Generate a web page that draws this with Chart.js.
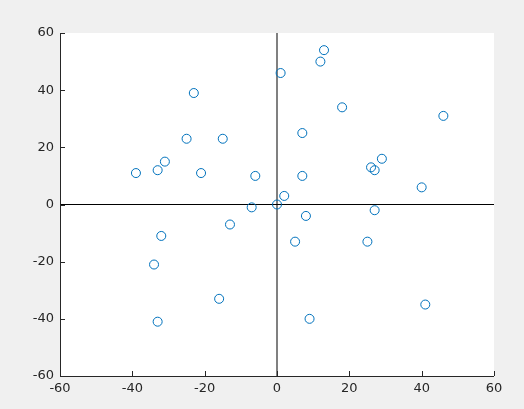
<!DOCTYPE html>
<html>
<head>
<meta charset="utf-8">
<script src="https://cdn.jsdelivr.net/npm/chart.js@4/dist/chart.umd.min.js"></script>
<style>
  html, body { margin: 0; padding: 0; background: #f0f0f0; }
  canvas { display: block; }
</style>
</head>
<body>
<canvas id="chart" width="524" height="409"></canvas>
<script>
// scatter data
const xValues = [-39, -33, -31, -23, -25, -21, -15, -6, -7, 0, 1, 2, 12, 13, 18, 7, 7, 8, 5,
                 26, 27, 29, 46, 40, 27, 25, 41, 9, -32, -34, -33, -16, -13];
const yValues = [11, 12, 15, 39, 23, 11, 23, 10, -1, 0, 46, 3, 50, 54, 34, 25, 10, -4, -13,
                 13, 12, 16, 31, 6, -2, -13, -35, -40, -11, -21, -41, -33, -7];

const xTicks = [-60, -40, -20, 0, 20, 40, 60];
const yTicks = [-60, -40, -20, 0, 20, 40, 60];

const points = xValues.map((x, i) => ({ x: x, y: yValues[i] }));

// white plot area + inward tick marks, matlab style
const axesDeco = {
  id: "axesDeco",
  beforeDraw(chart) {
    const a = chart.chartArea;
    const c = chart.ctx;
    c.save();
    c.fillStyle = "#ffffff";
    c.fillRect(a.left, a.top, a.right - a.left, a.bottom - a.top);
    c.restore();
  },
  afterDraw(chart) {
    const a = chart.chartArea;
    const c = chart.ctx;
    const sx = chart.scales.x, sy = chart.scales.y;
    c.save();
    c.strokeStyle = "#262626";
    c.lineWidth = 1;
    c.beginPath();
    xTicks.forEach(t => {
      const px = Math.round(sx.getPixelForValue(t)) + 0.5;
      c.moveTo(px, a.bottom);
      c.lineTo(px, a.bottom - 5);
    });
    yTicks.forEach(t => {
      const py = Math.round(sy.getPixelForValue(t)) + 0.5;
      c.moveTo(a.left, py);
      c.lineTo(a.left + 5, py);
    });
    c.stroke();
    c.restore();
  }
};

const tickFont = { family: "DejaVu Sans", size: 13 };

new Chart(document.getElementById("chart"), {
  type: "scatter",
  data: {
    datasets: [{
      data: points,
      pointStyle: "circle",
      pointRadius: 4.5,
      pointHoverRadius: 4.5,
      borderColor: "#0072BD",
      backgroundColor: "rgba(0,0,0,0)",
      borderWidth: 1
    }]
  },
  options: {
    responsive: false,
    animation: false,
    layout: { padding: { top: 33, right: 30, left: 0, bottom: 0 } },
    plugins: { legend: { display: false }, tooltip: { enabled: false } },
    scales: {
      x: {
        type: "linear",
        min: -60, max: 60,
        afterBuildTicks: s => { s.ticks = xTicks.map(v => ({ value: v })); },
        afterFit: s => { s.height = 33; },
        ticks: { color: "#262626", font: tickFont, padding: 5, maxRotation: 0 },
        grid: {
          drawTicks: false,
          color: ctx => ctx.tick && ctx.tick.value === 0 ? "#808080" : "rgba(0,0,0,0)",
          lineWidth: ctx => ctx.tick && ctx.tick.value === 0 ? 2 : 0
        },
        border: { display: true, color: "#262626", width: 1 }
      },
      y: {
        type: "linear",
        min: -60, max: 60,
        afterBuildTicks: s => { s.ticks = yTicks.map(v => ({ value: v })); },
        afterFit: s => { s.width = 60; },
        ticks: { color: "#262626", font: tickFont, padding: 6 },
        grid: {
          drawTicks: false,
          color: ctx => ctx.tick && ctx.tick.value === 0 ? "#000000" : "rgba(0,0,0,0)",
          lineWidth: ctx => ctx.tick && ctx.tick.value === 0 ? 1 : 0
        },
        border: { display: true, color: "#262626", width: 1 }
      }
    }
  },
  plugins: [axesDeco]
});
</script>
</body>
</html>
